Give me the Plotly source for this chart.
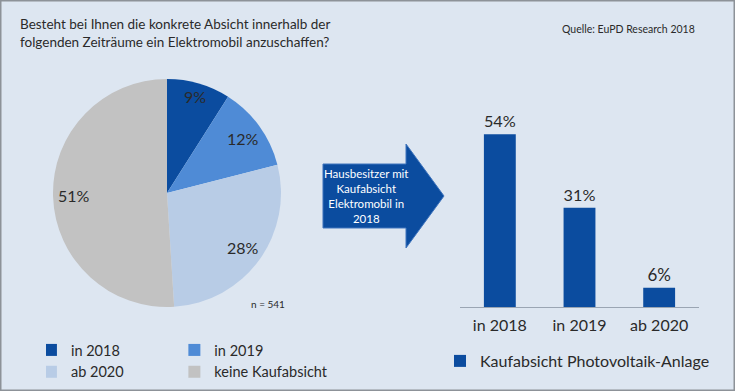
import math
import plotly.graph_objects as go

# ---------------- data ----------------
pie_labels = ["in 2018", "in 2019", "ab 2020", "keine Kaufabsicht"]
pie_values = [9, 12, 28, 51]
pie_colors = ["#0b4c9f", "#4f8bd6", "#b8cce6", "#c2c2c2"]

bar_categories = ["in 2018", "in 2019", "ab 2020"]
bar_values = [54, 31, 6]
bar_name = "Kaufabsicht Photovoltaik-Anlage"
bar_color = "#0b4c9f"

title_text = "Besteht bei Ihnen die konkrete Absicht innerhalb der<br>folgenden Zeiträume ein Elektromobil anzuschaffen?"
source_text = "Quelle: EuPD Research 2018"
n_text = "n = 541"
arrow_text = "Hausbesitzer mit<br>Kaufabsicht<br>Elektromobil in<br>2018"

# ---------------- geometry helpers ----------------
W, H = 735, 391
L, R = 46, 0
GW = W - L - R


def fx(p):
    return (p - L) / GW


def fy(p):
    return 1 - p / H


FONT = "Lato"
TXT = "#2a2a2a"

# pie geometry (pixels)
PCX, PCY, PR = 167, 193, 114

fig = go.Figure()

fig.add_trace(go.Pie(
    labels=pie_labels,
    values=pie_values,
    marker=dict(colors=pie_colors, line=dict(width=0)),
    sort=False,
    direction="clockwise",
    rotation=0,
    textinfo="none",
    hoverinfo="label+percent",
    domain=dict(x=[fx(PCX - PR), fx(PCX + PR)], y=[fy(PCY + PR), fy(PCY - PR)]),
    legend="legend",
    showlegend=True,
))

fig.add_trace(go.Bar(
    x=bar_categories,
    y=bar_values,
    name=bar_name,
    marker=dict(color=bar_color, line=dict(width=0)),
    width=0.4,
    text=[f"{v}%" for v in bar_values],
    textposition="outside",
    textfont=dict(family=FONT, size=17, color=TXT),
    cliponaxis=False,
    legend="legend2",
    showlegend=True,
))

annotations = []
# pie percentage labels, placed from the cumulative shares
total = sum(pie_values)
cum = 0
radii = [0.88, 0.82, 0.82, 0.82]
for v, rr in zip(pie_values, radii):
    mid = (cum + v / 2) / total * 2 * math.pi
    cum += v
    px = PCX + math.sin(mid) * PR * rr
    py = PCY - math.cos(mid) * PR * rr
    annotations.append(dict(
        x=fx(px), y=fy(py), xref="paper", yref="paper",
        text=f"{round(v / total * 100)}%", showarrow=False,
        font=dict(family=FONT, size=16, color=TXT),
        xanchor="center", yanchor="middle",
    ))

annotations += [
    dict(x=fx(18), y=fy(14), xref="paper", yref="paper", text=title_text,
         showarrow=False, xanchor="left", yanchor="top", align="left",
         font=dict(family=FONT, size=13.5, color=TXT)),
    dict(x=fx(697), y=fy(29), xref="paper", yref="paper", text=source_text,
         showarrow=False, xanchor="right", yanchor="middle",
         font=dict(family=FONT, size=10.5, color=TXT)),
    dict(x=fx(287), y=fy(304), xref="paper", yref="paper", text=n_text,
         showarrow=False, xanchor="right", yanchor="middle",
         font=dict(family=FONT, size=10, color=TXT)),
    dict(x=fx(366), y=fy(196), xref="paper", yref="paper", text=arrow_text,
         showarrow=False, xanchor="center", yanchor="middle", align="center",
         font=dict(family=FONT, size=11.5, color="white")),
]

# arrow shape (pixel geometry -> paper)
pts = [(323, 164), (406, 164), (406, 144), (444, 196), (406, 248), (406, 228), (323, 228)]
path = "M " + " L ".join(f"{fx(x):.5f},{fy(y):.5f}" for x, y in pts) + " Z"

shapes = [
    dict(type="path", path=path, xref="paper", yref="paper",
         fillcolor="#0b4c9f", line=dict(color="#3f74bd", width=1)),
    dict(type="rect", xref="paper", yref="paper",
         x0=fx(0.5), x1=fx(W - 0.5), y0=fy(H - 0.5), y1=fy(0.5),
         line=dict(color="#8d9298", width=2), fillcolor="rgba(0,0,0,0)", layer="above"),
]

fig.update_layout(
    width=W, height=H,
    margin=dict(l=L, r=R, t=0, b=0, autoexpand=False),
    paper_bgcolor="#dde6f1",
    plot_bgcolor="rgba(0,0,0,0)",
    font=dict(family=FONT, color=TXT),
    showlegend=True,
    xaxis=dict(
        domain=[fx(460), fx(699)],
        range=[-0.5, 2.5],
        showgrid=False, zeroline=False,
        showline=True, linecolor="#9aa5b3", linewidth=1,
        ticks="", tickfont=dict(family=FONT, size=16, color=TXT),
        ticklabelstandoff=4,
        fixedrange=True,
    ),
    yaxis=dict(
        domain=[fy(307), fy(115)],
        range=[0, 60],
        visible=False,
        fixedrange=True,
    ),
    legend=dict(
        orientation="h", x=-0.0001, xanchor="left", y=fy(334), yanchor="top",
        indentation=-15,
        font=dict(family=FONT, size=14.5, color=TXT),
        bgcolor="rgba(0,0,0,0)", traceorder="normal",
    ),
    legend2=dict(
        orientation="h", x=fx(440), xanchor="left", y=fy(344), yanchor="top",
        font=dict(family=FONT, size=16, color=TXT),
        bgcolor="rgba(0,0,0,0)",
    ),
    annotations=annotations,
    shapes=shapes,
    bargap=0.5,
)

fig.write_html(
    "out.html",
    include_plotlyjs=True,
    config={"displayModeBar": False},
    post_script="document.body.style.margin='0';document.body.style.padding='0';document.body.style.overflow='hidden';",
)
